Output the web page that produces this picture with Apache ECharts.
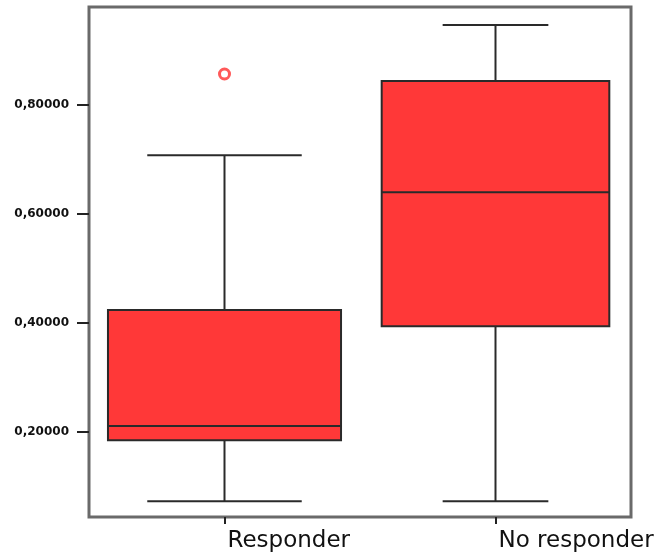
<!DOCTYPE html>
<html><head><meta charset="utf-8">
<script src="https://cdn.jsdelivr.net/npm/echarts@6/dist/echarts.min.js"></script>
<style>html,body{margin:0;padding:0;background:#fff}#c{width:662px;height:556px}</style>
</head><body><div id="c"></div>
<script>
const categories = ['Responder', 'No responder'];
const whiskerLow = [0.073, 0.073];
const q1 = [0.185, 0.394];
const median = [0.211, 0.640];
const q3 = [0.424, 0.844];
const whiskerHigh = [0.708, 0.947];
const outliers = [[0, 0.857]];
const yTicks = [0.2, 0.4, 0.6, 0.8];

const boxData = categories.map((c, i) => [i, whiskerLow[i], q1[i], median[i], q3[i], whiskerHigh[i]]);
const capRatios = [0.57, 0.39];
const boxRatios = [0.86, 0.84];

const chart = echarts.init(document.getElementById('c'));
chart.setOption({
  animation: false,
  grid: { left: 89, top: 7, right: 31, bottom: 39, show: true, borderColor: '#6a6a6a', borderWidth: 3 },
  xAxis: {
    type: 'category', data: categories,
    axisLine: { show: false },
    axisTick: { show: true, alignWithLabel: true, length: 7, lineStyle: { color: '#222', width: 2 } },
    axisLabel: { color: '#111', fontSize: 23, fontFamily: 'DejaVu Sans', align: 'left', margin: 13, padding: [0, 0, 0, 3] },
    splitLine: { show: false }
  },
  yAxis: {
    type: 'value', min: 0.044, max: 0.98,
    axisLine: { show: false },
    axisTick: { show: true, length: 12, customValues: yTicks, lineStyle: { color: '#222', width: 2 } },
    axisLabel: { customValues: yTicks, color: '#111', fontSize: 12, fontWeight: 'bold', fontFamily: 'DejaVu Sans', margin: 20,
      formatter: v => v.toFixed(5).replace('.', ',') },
    splitLine: { show: false }
  },
  series: [
    {
      type: 'custom',
      data: boxData,
      renderItem: function (params, api) {
        const idx = api.value(0);
        const x = api.coord([idx, 0])[0];
        const bw = api.size([1, 0])[0] * boxRatios[idx];
        const cw = api.size([1, 0])[0] * capRatios[idx];
        const yl = api.coord([idx, api.value(1)])[1];
        const y1 = api.coord([idx, api.value(2)])[1];
        const ym = api.coord([idx, api.value(3)])[1];
        const y3 = api.coord([idx, api.value(4)])[1];
        const yh = api.coord([idx, api.value(5)])[1];
        const ls = { stroke: '#2a2a2a', lineWidth: 2 };
        return {
          type: 'group',
          children: [
            { type: 'line', shape: { x1: x, y1: yh, x2: x, y2: y3 }, style: ls },
            { type: 'line', shape: { x1: x, y1: y1, x2: x, y2: yl }, style: ls },
            { type: 'line', shape: { x1: x - cw / 2, y1: yh, x2: x + cw / 2, y2: yh }, style: ls },
            { type: 'line', shape: { x1: x - cw / 2, y1: yl, x2: x + cw / 2, y2: yl }, style: ls },
            { type: 'rect', shape: { x: x - bw / 2, y: y3, width: bw, height: y1 - y3 }, style: { fill: '#ff3838', stroke: '#2a2a2a', lineWidth: 2 } },
            { type: 'line', shape: { x1: x - bw / 2, y1: ym, x2: x + bw / 2, y2: ym }, style: ls }
          ]
        };
      }
    },
    {
      type: 'scatter', data: outliers, symbol: 'circle', symbolSize: 10,
      itemStyle: { color: '#fff', borderColor: '#ff3030', borderWidth: 3 }
    }
  ]
});
</script></body></html>
